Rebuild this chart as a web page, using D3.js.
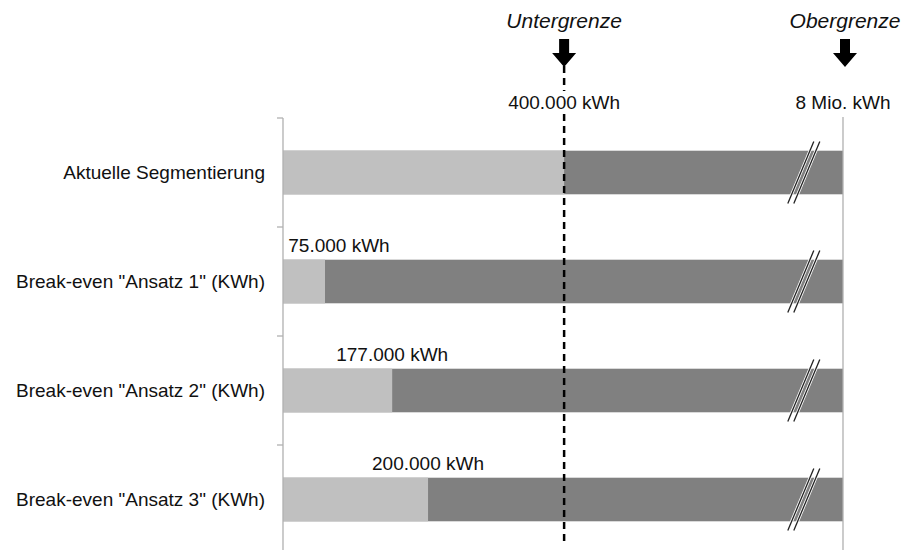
<!DOCTYPE html>
<html>
<head>
<meta charset="utf-8">
<script src="https://cdn.jsdelivr.net/npm/d3@7"></script>
<style>
  body { margin: 0; background: #fff; }
  svg { font-family: "Liberation Sans", Arial, sans-serif; }
</style>
</head>
<body>
<div id="chart"></div>
<script>
// rows of the chart, top to bottom
const categories = [
  'Aktuelle Segmentierung',
  'Break-even "Ansatz 1" (KWh)',
  'Break-even "Ansatz 2" (KWh)',
  'Break-even "Ansatz 3" (KWh)'
];
// light segment, in % of the (schematic, broken) axis as drawn
const lowerShare = [50.2, 7.5, 19.5, 25.9];
const valueLabels = [null, '75.000 kWh', '177.000 kWh', '200.000 kWh'];

// the two limits marked on top
const limitNames = ['Untergrenze', 'Obergrenze'];
const limitLabels = ['400.000 kWh', '8 Mio. kWh'];
const limitShare = [50.2, 100];

// where the axis break (//) sits
const breakShare = 93;

const width = 906;
const height = 551;

const svg = d3.select('#chart').append('svg')
  .attr('width', width)
  .attr('height', height);

const x = d3.scaleLinear().domain([0, 100]).range([283, 843]);
const y = d3.scaleBand().domain(categories).range([118, 554]).padding(0);
const barH = y.bandwidth() * 0.4;
const barY = d => y(d) + y.bandwidth() * 0.3;

// bars: full dark bar, then the light part on top
const rows = categories.map((c, i) => ({ cat: c, share: lowerShare[i], label: valueLabels[i] }));

svg.selectAll('.bar-dark')
  .data(rows)
  .enter().append('rect')
  .attr('x', x(0))
  .attr('y', d => barY(d.cat))
  .attr('width', x(100) - x(0))
  .attr('height', barH)
  .attr('fill', '#808080');

svg.selectAll('.bar-light')
  .data(rows)
  .enter().append('rect')
  .attr('x', x(0))
  .attr('y', d => barY(d.cat))
  .attr('width', d => x(d.share) - x(0))
  .attr('height', barH)
  .attr('fill', '#c0c0c0');

// break marks //
rows.forEach(d => {
  const cx = x(breakShare);
  const cy = barY(d.cat) + barH / 2;
  [-3, 3].forEach(off => {
    svg.append('line')
      .attr('x1', cx + off - 13).attr('y1', cy + 31)
      .attr('x2', cx + off + 13).attr('y2', cy - 31)
      .attr('stroke', '#fff').attr('stroke-width', 3);
  });
  [-3, 3].forEach(off => {
    svg.append('line')
      .attr('x1', cx + off - 13).attr('y1', cy + 31)
      .attr('x2', cx + off + 13).attr('y2', cy - 31)
      .attr('stroke', '#222').attr('stroke-width', 1.3);
  });
});

// y axis with ticks at band borders
svg.append('line')
  .attr('x1', x(0)).attr('x2', x(0))
  .attr('y1', 118).attr('y2', 550)
  .attr('stroke', '#b0b0b0').attr('stroke-width', 1.3);

svg.selectAll('.tick')
  .data(categories)
  .enter().append('line')
  .attr('x1', x(0) - 6).attr('x2', x(0))
  .attr('y1', d => y(d)).attr('y2', d => y(d))
  .attr('stroke', '#b0b0b0').attr('stroke-width', 1.3);

svg.selectAll('.cat-label')
  .data(categories)
  .enter().append('text')
  .attr('x', 265)
  .attr('y', d => barY(d) + barH / 2)
  .attr('dy', '0.35em')
  .attr('text-anchor', 'end')
  .attr('font-size', 19)
  .attr('fill', '#111')
  .text(d => d);

// value labels above the break-even bars
svg.selectAll('.val-label')
  .data(rows.filter(d => d.label))
  .enter().append('text')
  .attr('x', d => Math.max(x(d.share), x(0) + 56))
  .attr('y', d => barY(d.cat) - 8)
  .attr('text-anchor', 'middle')
  .attr('font-size', 19)
  .attr('fill', '#111')
  .text(d => d.label);

// upper limit line (solid grey)
svg.append('line')
  .attr('x1', x(limitShare[1])).attr('x2', x(limitShare[1]))
  .attr('y1', 117).attr('y2', 550)
  .attr('stroke', '#b0b0b0').attr('stroke-width', 1.3);

// lower limit line (dashed black)
svg.append('line')
  .attr('x1', x(limitShare[0])).attr('x2', x(limitShare[0]))
  .attr('y1', 66).attr('y2', 546)
  .attr('stroke', '#000').attr('stroke-width', 2.5)
  .attr('stroke-dasharray', '7,5');

// limit labels with white background
limitLabels.forEach((t, i) => {
  const g = svg.append('g');
  const txt = g.append('text')
    .attr('x', x(limitShare[i]))
    .attr('y', 109)
    .attr('text-anchor', 'middle')
    .attr('font-size', 19)
    .attr('fill', '#111')
    .text(t);
  const bb = txt.node().getBBox();
  g.insert('rect', 'text')
    .attr('x', bb.x - 2).attr('y', bb.y - 1)
    .attr('width', bb.width + 4).attr('height', bb.height + 2)
    .attr('fill', '#fff');
});

// limit names and arrows
limitNames.forEach((t, i) => {
  const cx = x(limitShare[i]) + (i === 1 ? 2 : 0);
  svg.append('text')
    .attr('x', cx)
    .attr('y', 28)
    .attr('text-anchor', 'middle')
    .attr('font-size', 21)
    .attr('font-style', 'italic')
    .attr('fill', '#111')
    .text(t);
  svg.append('path')
    .attr('d', `M${cx - 5},39 L${cx + 5},39 L${cx + 5},53 L${cx + 12},53 L${cx},67 L${cx - 12},53 L${cx - 5},53 Z`)
    .attr('fill', '#000');
});
</script>
</body>
</html>
